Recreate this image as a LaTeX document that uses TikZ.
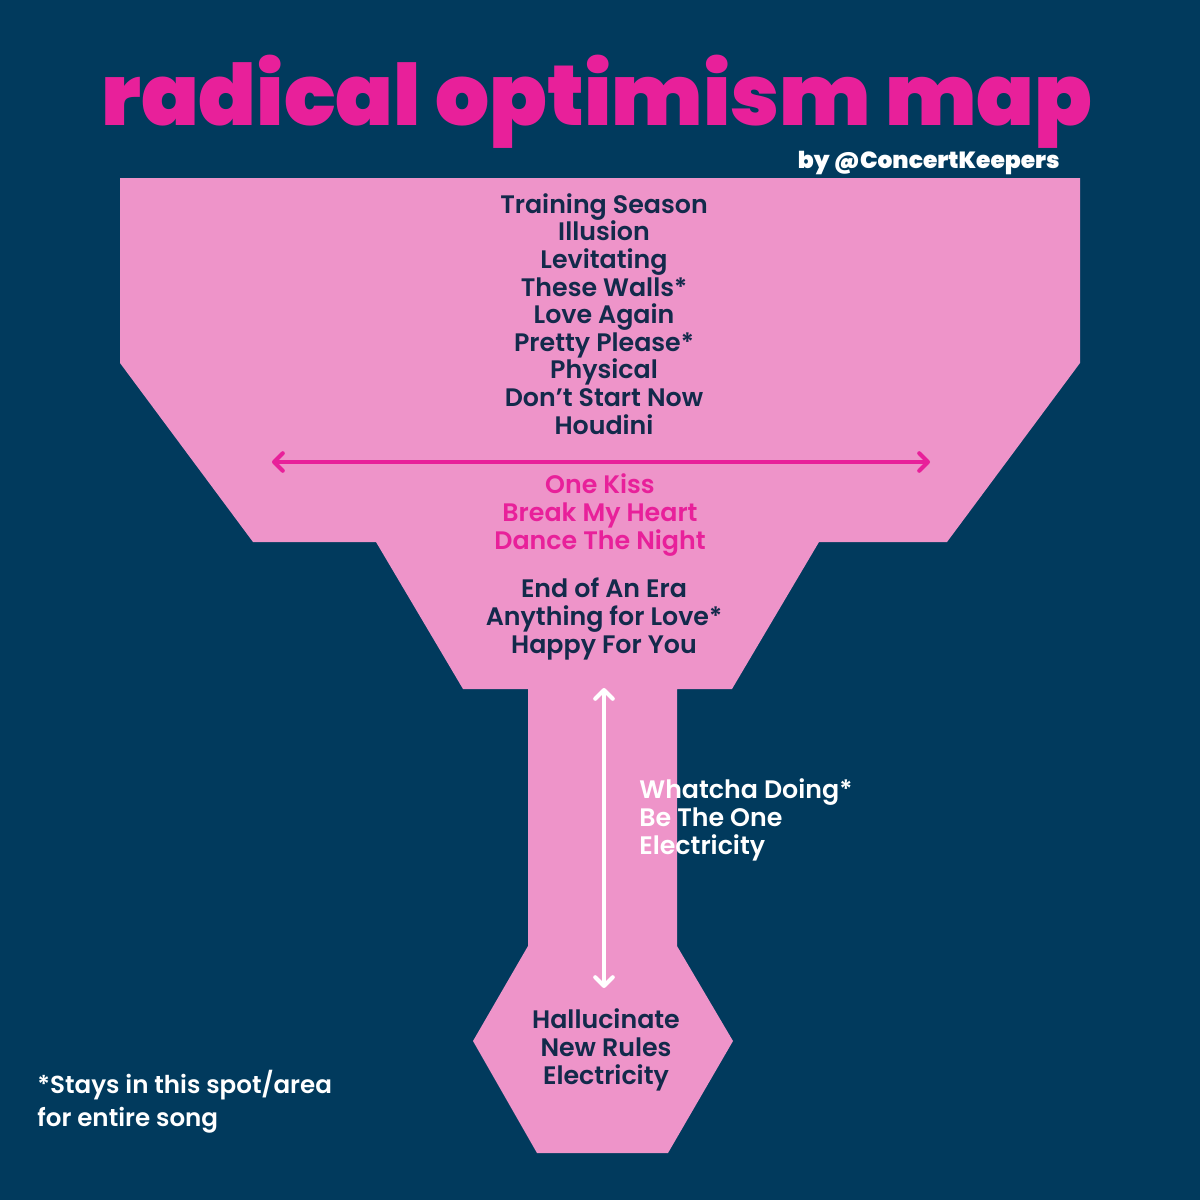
\documentclass[tikz,border=0pt]{standalone}
\usepackage{fontspec}
\setmainfont{Poppins}
\newfontfamily\popsb{Poppins SemiBold}
\newfontfamily\popblack{Poppins Black}
\usetikzlibrary{arrows.meta}
\definecolor{bgnavy}{HTML}{013A5D}
\definecolor{funnelpink}{HTML}{EE94C9}
\definecolor{hotpink}{HTML}{E8209A}
\definecolor{darktext}{HTML}{132A4B}
\tikzset{
  songs/.style={font=\popsb\fontsize{14.4}{15.7}\selectfont, align=center, inner sep=0pt, anchor=base},
  darksongs/.style={songs, text=darktext},
  pinksongs/.style={songs, text=hotpink},
  whitesongs/.style={songs, text=white, align=left, anchor=base west},
  barb/.style={line width=2.3pt, line cap=round, {Straight Barb[length=5pt,width=10pt,line cap=round,line join=round]}-{Straight Barb[length=5pt,width=10pt,line cap=round,line join=round]}}
}
\begin{document}
\begin{tikzpicture}[x=0.02cm,y=-0.02cm]
\fill[bgnavy] (0,0) rectangle (1200,1200);
\useasboundingbox (0,0) rectangle (1200,1200);
\fill[funnelpink] (120,178) -- (1080,178) -- (1080,363) -- (947,542) -- (819,542)
  -- (732,689) -- (677,689) -- (677,946) -- (733,1041) -- (668,1153) -- (537,1153)
  -- (473,1041) -- (528,946) -- (528,689) -- (463,689) -- (376,542) -- (253,542)
  -- (120,363) -- cycle;

\node[text=hotpink, inner sep=0pt, anchor=base] (title) at (597,125)
  {\resizebox{564pt}{!}{\popblack\fontsize{50}{50}\selectfont radical optimism map}};
\node[text=white, inner sep=0pt, anchor=base east, font=\popblack\fontsize{13.3}{14}\selectfont] (byline) at (1060,168) {by @ConcertKeepers};

% base anchor = baseline of the last line
\node[darksongs] (top) at (604,434) {Training Season\\Illusion\\Levitating\\These Walls*\\Love Again\\Pretty Please*\\Physical\\Don’t Start Now\\Houdini};
\node[pinksongs] (mid) at (600,549) {One Kiss\\Break My Heart\\Dance The Night};
\node[darksongs] (low) at (604,653) {End of An Era\\Anything for Love*\\Happy For You};
\node[whitesongs] (stem) at (639,854) {Whatcha Doing*\\Be The One\\Electricity};
\node[darksongs] (hex) at (606,1084) {Hallucinate\\New Rules\\Electricity};
\node[text=white, inner sep=0pt, anchor=base west, align=left, font=\popsb\fontsize{14}{18.7}\selectfont] (note) at (37,1126) {*Stays in this spot/area\\for entire song};

\coordinate (hl) at (272,462);
\coordinate (hr) at (930,462);
\coordinate (vt) at (604,688);
\coordinate (vb) at (604,988);
\draw[barb, hotpink] (hl) -- (hr);
\draw[barb, white] (vt) -- (vb);
\end{tikzpicture}
\end{document}
